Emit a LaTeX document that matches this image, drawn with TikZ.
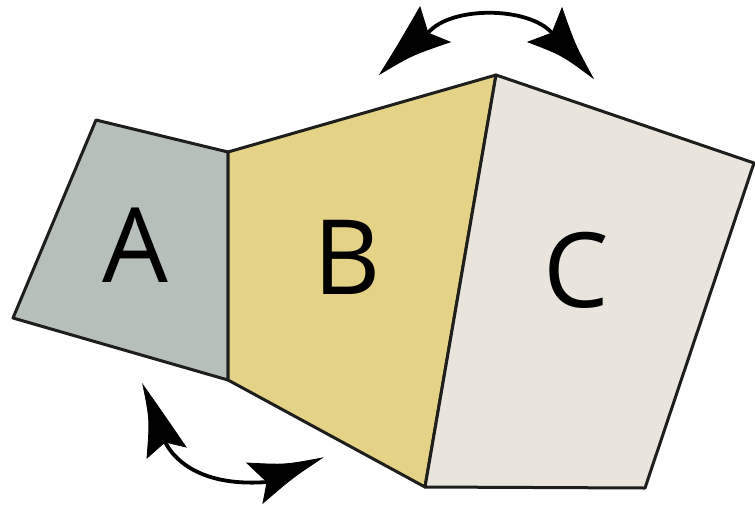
\documentclass[tikz,border=0pt]{standalone}
\usepackage{fontspec}
\setmainfont{Open Sans}
\definecolor{colA}{RGB}{183,191,186}
\definecolor{colB}{RGB}{228,211,134}
\definecolor{colC}{RGB}{233,229,221}
\definecolor{edge}{RGB}{30,30,28}
\tikzset{
  panel/.style={draw=edge, line width=3pt, line join=round},
  letter/.style={font=\fontsize{104}{104}\selectfont, text=black, inner sep=0pt},
  swing/.style={line width=3.8pt, draw=black, line cap=round},
  headfill/.style={fill=black, draw=black, line width=0.8pt, line join=miter}
}
\begin{document}
\begin{tikzpicture}[x=1pt,y=-1pt]
\useasboundingbox (0,0) rectangle (755,507);
% panels
\coordinate (a1) at (96,120);
\coordinate (a2) at (228,152);
\coordinate (a3) at (228,380);
\coordinate (a4) at (13,318);
\coordinate (b2) at (496,75);
\coordinate (b3) at (425,487);
\coordinate (c2) at (754,163);
\coordinate (c3) at (645,488);
\filldraw[panel, fill=colA] (a1) -- (a2) -- (a3) -- (a4) -- cycle;
\filldraw[panel, fill=colB] (a2) -- (b2) -- (b3) -- (a3) -- cycle;
\filldraw[panel, fill=colC] (b2) -- (c2) -- (c3) -- (b3) -- cycle;
\node[letter] (lA) at (135,245) {A};
\node[letter] (lB) at (347,257) {B};
\node[letter] (lC) at (576,270) {C};
% top double arrow
\coordinate (tlTip) at (380,74);
\coordinate (tlB1) at (420,7);
\coordinate (tlN) at (428,33);
\coordinate (tlB2) at (450,42);
\coordinate (trTip) at (593,78);
\coordinate (trB1) at (562,8);
\coordinate (trN) at (552,33);
\coordinate (trB2) at (528,42);
\draw[swing] (tlN) .. controls (450,6) and (528,6) .. (trN);
\fill[headfill] (tlTip) .. controls (398,45) .. (tlB1) -- (tlN) -- (tlB2) .. controls (412,55) .. cycle;
\fill[headfill] (trTip) .. controls (575,45) .. (trB1) -- (trN) -- (trB2) .. controls (562,55) .. cycle;
% bottom double arrow
\coordinate (blTip) at (143,385);
\coordinate (blB1) at (147,458);
\coordinate (blN) at (165,442);
\coordinate (blB2) at (186,447);
\coordinate (brTip) at (322,458);
\coordinate (brB1) at (247,463);
\coordinate (brN) at (267,482);
\coordinate (brB2) at (263,503);
\draw[swing] (blN) .. controls (180,470) and (215,486) .. (brN);
\fill[headfill] (blTip) .. controls (150,420) .. (blB1) -- (blN) -- (blB2) .. controls (162,412) .. cycle;
\fill[headfill] (brTip) .. controls (285,465) .. (brB1) -- (brN) -- (brB2) .. controls (292,478) .. cycle;
\end{tikzpicture}
\end{document}
